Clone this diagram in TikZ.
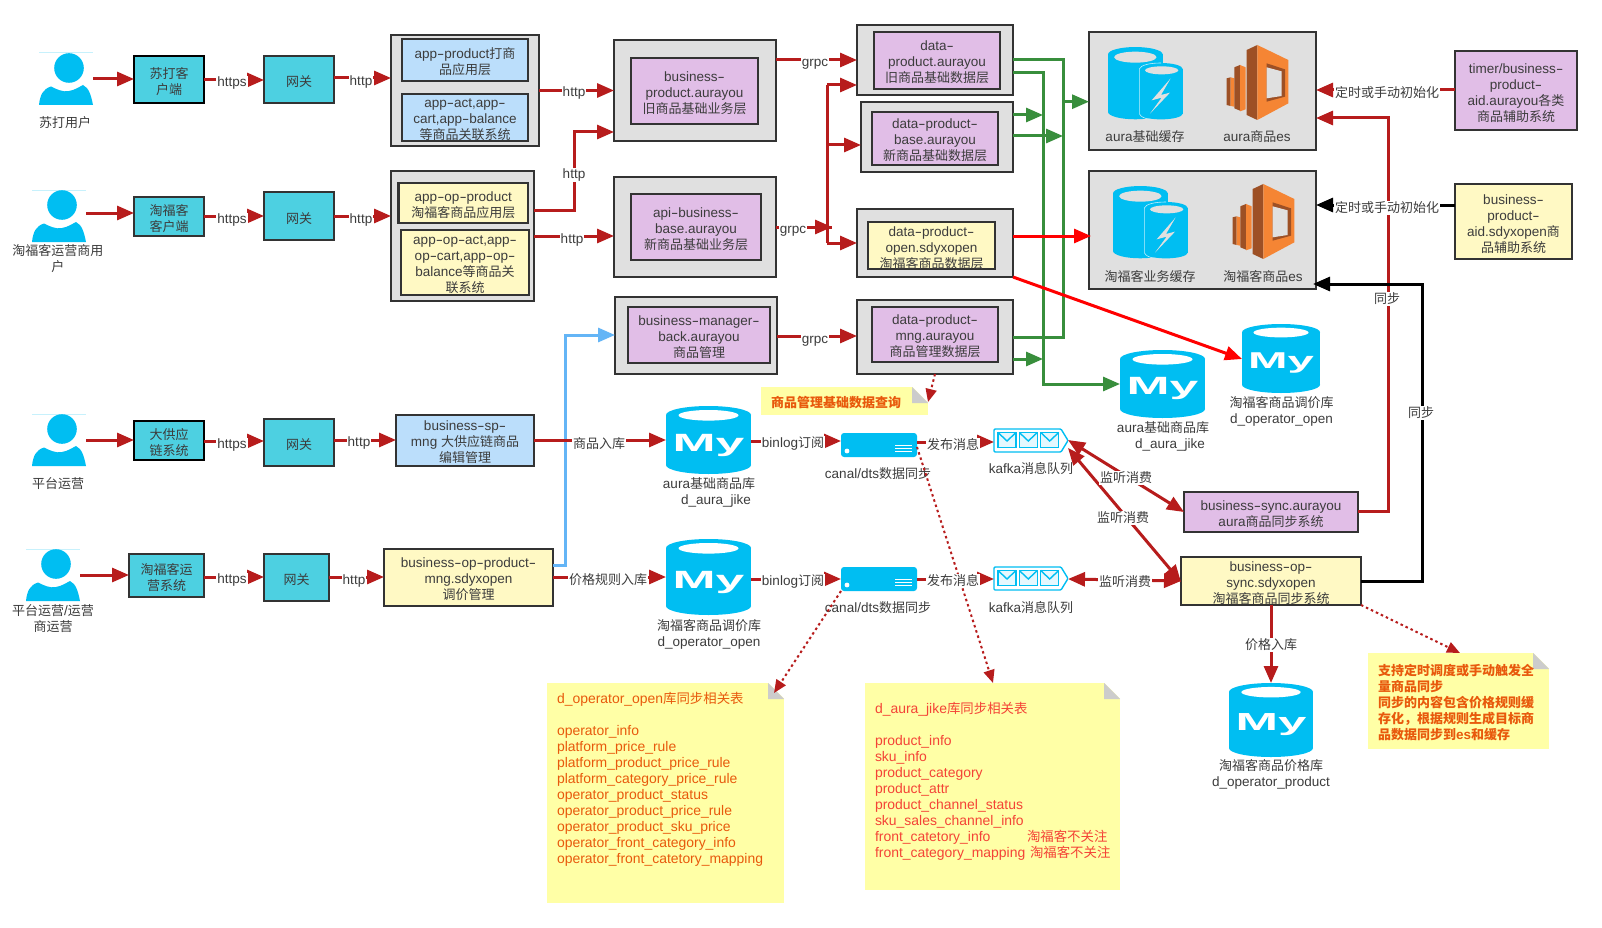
\documentclass[tikz,border=0pt]{standalone}
\usepackage{fontspec}
\usetikzlibrary{arrows.meta}
\setmainfont[Scale=1.04]{Liberation Sans}
\newfontfamily\latf[Scale=1.04]{Liberation Sans}
\newfontfamily\cjkf{Noto Sans CJK SC}
\XeTeXinterchartokenstate=1
\newcount\cjkcnt
\cjkcnt="4E00
\loop\XeTeXcharclass\cjkcnt=100 \advance\cjkcnt by 1 \ifnum\cjkcnt<"A000 \repeat
\XeTeXcharclass"FF0C=100
\XeTeXinterchartoks 0 100={\cjkf}
\XeTeXinterchartoks 100 0={\latf}
\XeTeXinterchartoks 4095 100={\cjkf}
\XeTeXinterchartoks 4095 0={\latf}
\newcommand{\hy}{\scalebox{1.6}[1]{-}}
\definecolor{cred}{HTML}{B71C1C}
\definecolor{cgreen}{HTML}{388E3C}
\definecolor{cblue}{HTML}{64B5F6}
\definecolor{ccyan}{HTML}{4DD0E1}
\definecolor{cpale}{HTML}{BBDEFB}
\definecolor{cyel}{HTML}{FFF9C4}
\definecolor{cpur}{HTML}{E1BEE7}
\definecolor{cgrey}{HTML}{E0E0E0}
\definecolor{cedge}{HTML}{333333}
\definecolor{cicon}{HTML}{00BEF2}
\definecolor{cnote}{HTML}{FFFFA6}
\definecolor{ctxt}{HTML}{3C3C3C}
\definecolor{corg}{HTML}{E8590C}
\definecolor{cpink}{HTML}{F44336}
\definecolor{esdark}{HTML}{9D5025}
\definecolor{esor}{HTML}{F58534}
\tikzset{
 base/.style={inner sep=0pt,outer sep=0pt},
 ghost/.style={base},
 txt/.style={base,align=center,text=ctxt,font=\fontsize{13}{16}\selectfont},
 lbl/.style={txt,fill=white,inner sep=1pt},
 box/.style={base,draw=cedge,line width=2.5pt},
 outerb/.style={box,fill=cgrey},
 cyanb/.style={box,fill=ccyan},
 cyankb/.style={box,fill=ccyan,draw=black},
 paleb/.style={box,fill=cpale},
 yelb/.style={box,fill=cyel},
 purb/.style={box,fill=cpur},
 arr/.style={draw=cred,line width=3pt,-{Triangle[length=17pt,width=14pt]}},
 darr/.style={draw=cred,line width=3pt,{Triangle[length=17pt,width=14pt]}-{Triangle[length=17pt,width=14pt]}},
 garr/.style={draw=cgreen,line width=3pt,-{Triangle[length=17pt,width=14pt]}},
 gline/.style={draw=cgreen,line width=3pt},
 barr/.style={arr,draw=cblue},
 rarr/.style={draw=red,line width=3pt,-{Triangle[length=17pt,width=14pt]}},
 karr/.style={draw=black,line width=3pt,-{Triangle[length=17pt,width=14pt]}},
 darrow/.style={draw=cred,line width=2pt,dash pattern=on 2.5pt off 3pt,-{Triangle[length=13pt,width=11pt]}},
 notetxt/.style={base,align=left,anchor=north west,font=\fontsize{13.4}{16}\selectfont},
 notebold/.style={base,align=left,anchor=north west,font=\fontsize{13}{16}\selectfont\bfseries},
}
\newcommand{\bx}[6]{%
 \node[#2,minimum width={(#5-#3)*1pt},minimum height={(#6-#4)*1pt}] (#1) at ({(#3+#5)/2},{(#4+#6)/2}) {};}
\newcommand{\tx}[3][2]{\node[txt] (#2-t) at ([yshift=-#1pt]#2.center) {#3};}
\newcommand{\conn}[4][arr]{\draw[#1] (#2.east |- 0,#4) -- (#3.west |- 0,#4);}
\newcommand{\lb}[4]{\node[lbl] (#1) at (#2,{#3+1}) {#4};}
\newcommand{\capt}[4]{\node[txt] (#1) at (#2,#3) {#4};}
\newcommand{\person}[3]{%
 \node[ghost,minimum width=54pt,minimum height=52pt] (#1) at ({#2+27},{#3+26}) {};
 \begin{scope}[shift={(#2,#3)}]
 \draw[cicon!22,line width=1pt] (0,0) -- (54,0);
 \fill[cicon] (30,15) circle [radius=14.8pt];
 \fill[cicon] (0,52) .. controls (1,42) and (4,36) .. (12,33.5) .. controls (17,36) and (24,39.5) .. (30,38) .. controls (36,37) and (40,34) .. (44,32) .. controls (50,35) and (52,42) .. (54,52) -- cycle;
 \end{scope}}
\newcommand{\cylfill}[6]{%
 \fill[#6] (#1,{#2+#5}) rectangle (#3,{#4-#5});
 \fill[#6] ({(#1+#3)/2},{#2+#5}) ellipse [x radius={(#3-#1)/2*1pt},y radius={#5*1pt}];
 \fill[#6] ({(#1+#3)/2},{#4-#5}) ellipse [x radius={(#3-#1)/2*1pt},y radius={#5*1pt}];}
\newcommand{\mysql}[5]{%
 \pgfmathsetmacro{\mysc}{(#4-#2)/85}
 \node[ghost,minimum width={(#4-#2)*1pt},minimum height={(#5-#3)*1pt}] (#1) at ({(#2+#4)/2},{(#3+#5)/2}) {};
 \cylfill{#2}{#3}{#4}{#5}{9*\mysc}{cicon}
 \fill[white] ({(#2+#4)/2},{#3+9.3*\mysc}) ellipse [x radius={30*\mysc*1pt},y radius={5.3*\mysc*1pt}];
 \node[base,text=white,scale=\mysc] (#1-my) at ({(#2+#4)/2},{(#3+#5)/2+5*\mysc}) {\scalebox{2.07}[1]{\fontsize{24}{24}\selectfont\bfseries My}};}
\newcommand{\cacheicon}[2]{%
 \begin{scope}[shift={({#1-8},{#2-6})},x=0.3333pt,y=-0.3333pt]
 \fill[cicon] (24,40) rectangle (188,213);
 \fill[cicon] (106,40) ellipse [x radius=27.3pt,y radius=7.3pt];
 \fill[cicon] (106,213) ellipse [x radius=27.3pt,y radius=7.3pt];
 \fill[cgrey] (106,48.5) ellipse [x radius=21.2pt,y radius=5.5pt];
 \fill[cicon] (118,84) rectangle (248,218);
 \fill[cicon] (183,84) ellipse [x radius=21.7pt,y radius=6pt];
 \fill[cicon] (183,218) ellipse [x radius=21.7pt,y radius=5.7pt];
 \draw[white!75!cicon,line width=.6pt] (118,218) -- (118,84) .. controls (122,72) and (150,66) .. (183,66);
 \draw[white!75!cicon,line width=.6pt] (118,218) .. controls (122,228) and (135,233) .. (150,235);
 \fill[cgrey] (185,88) ellipse [x radius=16.7pt,y radius=4pt];
 \fill[cgrey] (212,112) -- (155,178) -- (185,170) -- (150,218) -- (210,155) -- (183,162) -- cycle;
 \end{scope}}
\newcommand{\esicon}[2]{%
 \begin{scope}[shift={({#1-126},{#2-5})},x=0.3333pt,y=-0.3333pt]
 \fill[esdark] (380,115) -- (392,112) -- (392,198) -- (380,195) -- cycle;
 \fill[esor] (392,112) -- (403,115) -- (403,200) -- (392,198) -- cycle;
 \fill[esdark] (403,82) -- (420,75) -- (420,212) -- (403,205) -- cycle;
 \fill[esor] (420,75) -- (437,82) -- (437,208) -- (420,214) -- cycle;
 \fill[esdark] (440,30) -- (472,15) -- (472,240) -- (440,225) -- cycle;
 \fill[esor] (472,15) -- (565,60) -- (565,190) -- (472,240) -- cycle;
 \fill[esdark] (500,70) -- (555,88) -- (555,170) -- (500,185) -- cycle;
 \fill[cgrey] (500,82) -- (545,94) -- (545,168) -- (500,175) -- cycle;
 \end{scope}}
\newcommand{\server}[3]{%
 \node[ghost,minimum width=76pt,minimum height=24pt] (#1) at ({#2+38},{#3+12}) {};
 \begin{scope}[shift={(#2,#3)}]
 \fill[cicon,rounded corners=3pt] (0,0) rectangle (76,24);
 \fill[white] (6,18) circle [radius=2.4pt];
 \draw[white,line width=1pt] (54,12) -- (71,12) (54,15) -- (71,15) (54,18) -- (71,18);
 \end{scope}}
\newcommand{\kafka}[3]{%
 \node[ghost,minimum width=74pt,minimum height=23pt] (#1) at ({#2+37},{#3+11.5}) {};
 \begin{scope}[shift={(#2,#3)},cicon,line width=1.4pt]
 \draw[fill=white,rounded corners=1pt] (0,0) -- (67,0) -- (74,11.5) -- (67,23) -- (0,23) -- cycle;
 \foreach \ex in {4,25.3,46.7} {
  \draw[fill=cicon!10] (\ex,3.5) rectangle ({\ex+18},18.5);
  \draw (\ex,3.5) -- ({\ex+9},12) -- ({\ex+18},3.5);}
 \end{scope}}
\newcommand{\notebox}[5]{%
 \node[base,fill=cnote,minimum width={(#4-#2)*1pt},minimum height={(#5-#3)*1pt}] (#1) at ({(#2+#4)/2},{(#3+#5)/2}) {};
 \fill[white] ({#4-16},{#3-.5}) -- ({#4+.5},{#3-.5}) -- ({#4+.5},{#3+16}) -- cycle;
 \fill[black!20] ({#4-16},#3) -- (#4,{#3+16}) -- ({#4-16},{#3+16}) -- cycle;}
\begin{document}
\begin{tikzpicture}[x=1pt,y=-1pt]
\useasboundingbox (0,0) rectangle (1602,928);
\fill[white] (0,0) rectangle (1602,928);
% left column
\person{p1}{39}{53}
\person{p2}{32}{190}
\person{p3}{32}{414}
\person{p4}{26}{549}
\capt{p1c}{65}{123}{苏打用户}
\capt{p2c}{58}{259}{淘福客运营商用\\户}
\capt{p3c}{58}{484}{平台运营}
\capt{p4c}{53}{619}{平台运营/运营\\商运营}
\bx{c1}{cyankb}{134}{56}{204}{103}\tx{c1}{苏打客\\户端}
\bx{c2}{cyanb}{134}{197}{204}{236}\tx{c2}{淘福客\\客户端}
\bx{c3}{cyankb}{134}{421}{204}{460}\tx{c3}{大供应\\链系统}
\bx{c4}{cyanb}{129}{554}{204}{597}\tx{c4}{淘福客运\\营系统}
\bx{g1}{cyanb}{264}{56}{334}{103}\tx{g1}{网关}
\bx{g2}{cyanb}{264}{192}{334}{240}\tx[3]{g2}{网关}
\bx{g3}{cyanb}{264}{419}{334}{466}\tx{g3}{网关}
\bx{g4}{cyanb}{264}{554}{329}{601}\tx{g4}{网关}
% application layer
\bx{a1}{outerb}{391}{35}{539}{146}
\bx{a1a}{paleb}{402}{39}{528}{81}\tx{a1a}{app\hy product打商\\品应用层}
\bx{a1b}{paleb}{402}{94}{528}{141}\tx[2.5]{a1b}{app\hy act,app\hy \\cart,app\hy balance\\等商品关联系统}
\bx{a2}{outerb}{391}{171}{534}{301}
\bx{a2a}{yelb}{398.5}{183}{528}{223}\tx{a2a}{app\hy op\hy product\\淘福客商品应用层}
\bx{a2b}{yelb}{401}{230}{529}{295}\tx[2.5]{a2b}{app\hy op\hy act,app\hy \\op\hy cart,app\hy op\hy \\balance等商品关\\联系统}
\bx{a3}{paleb}{396}{415}{534}{466}\tx{a3}{business\hy sp\hy \\mng 大供应链商品\\编辑管理}
\bx{a4}{yelb}{384}{549}{553}{606}\tx{a4}{business\hy op\hy product\hy \\mng.sdyxopen\\调价管理}
% business layer
\bx{b1}{outerb}{614}{40}{776}{141}
\bx{b1i}{purb}{631}{58}{758}{124}\tx[2.5]{b1i}{business\hy \\product.aurayou\\旧商品基础业务层}
\bx{b2}{outerb}{614}{177}{776}{277}
\bx{b2i}{purb}{631}{194}{761}{260}\tx[2.5]{b2i}{api\hy business\hy \\base.aurayou\\新商品基础业务层}
\bx{b3}{outerb}{615}{297}{777}{374}
\bx{b3i}{purb}{628}{307}{770}{363}\tx{b3i}{business\hy manager\hy \\back.aurayou\\商品管理}
% data layer
\bx{d1}{outerb}{857}{25}{1013}{95}
\bx{d1i}{purb}{874}{32}{1000}{89}\tx{d1i}{data\hy \\product.aurayou\\旧商品基础数据层}
\bx{d2}{outerb}{861}{102}{1013}{172}
\bx{d2i}{purb}{872}{112}{998}{165}\tx{d2i}{data\hy product\hy \\base.aurayou\\新商品基础数据层}
\bx{d3}{outerb}{857}{209}{1013}{277}
\bx{d3i}{yelb}{868}{222}{995}{269}\tx[3]{d3i}{data\hy product\hy \\open.sdyxopen\\淘福客商品数据层}
\bx{d4}{outerb}{857}{300}{1013}{374}
\bx{d4i}{purb}{872}{307}{998}{362}\tx{d4i}{data\hy product\hy \\mng.aurayou\\商品管理数据层}
% cache boxes
\bx{e1}{outerb}{1089}{32}{1316}{150}
\cacheicon{1108}{47}
\esicon{1226}{45}
\capt{e1a}{1145}{137}{aura基础缓存}
\capt{e1b}{1257}{137}{aura商品es}
\bx{e2}{outerb}{1089}{171}{1316}{289}
\cacheicon{1113}{186}
\esicon{1232}{184}
\capt{e2a}{1150}{277}{淘福客业务缓存}
\capt{e2b}{1263}{277}{淘福客商品es}
\bx{t1}{purb}{1455}{51}{1577}{130}\tx[3]{t1}{timer/business\hy \\product\hy \\aid.aurayou各类\\商品辅助系统}
\bx{t2}{yelb}{1455}{184}{1572}{259}\tx[3]{t2}{business\hy \\product\hy \\aid.sdyxopen商\\品辅助系统}
\bx{s1}{purb}{1184}{492}{1358}{532}\tx{s1}{business\hy sync.aurayou\\aura商品同步系统}
\bx{s2}{yelb}{1181}{557}{1361}{605}\tx[2.5]{s2}{business\hy op\hy \\sync.sdyxopen\\淘福客商品同步系统}
% databases and queues
\mysql{m1}{666}{406}{751}{474}
\mysql{m2}{666}{539}{751}{615}
\mysql{m3}{1120}{350}{1205}{418}
\mysql{m4}{1242}{324}{1320}{393}
\mysql{m5}{1229}{683}{1313}{757}
\capt{m1c}{709}{492}{aura基础商品库\\\hspace*{14pt}d\_aura\_jike}
\capt{m2c}{709}{634}{淘福客商品调价库\\d\_operator\_open}
\capt{m3c}{1163}{436}{aura基础商品库\\\hspace*{14pt}d\_aura\_jike}
\capt{m4c}{1281.5}{411}{淘福客商品调价库\\d\_operator\_open}
\capt{m5c}{1271}{774}{淘福客商品价格库\\d\_operator\_product}
\server{v1}{841}{433}
\server{v2}{841}{567}
\capt{v1c}{878}{474}{canal/dts数据同步}
\capt{v2c}{878}{608}{canal/dts数据同步}
\kafka{k1}{994}{429}
\kafka{k2}{994}{567}
\capt{k1c}{1031}{469}{kafka消息队列}
\capt{k2c}{1031}{608}{kafka消息队列}
% notes
\notebox{nq}{761}{387}{928}{415}
\notebox{n1}{547}{683}{784}{903}
\notebox{n2}{865}{683}{1120}{890}
\notebox{n3}{1368}{653}{1549}{749}
\node[notebold,anchor=center,text=corg] (nqt) at (836,403) {商品管理基础数据查询};
\node[notetxt,text=corg] (n1t) at (557,692) {d\_operator\_open库同步相关表\\[16pt]operator\_info\\platform\_price\_rule\\platform\_product\_price\_rule\\platform\_category\_price\_rule\\operator\_product\_status\\operator\_product\_price\_rule\\operator\_product\_sku\_price\\operator\_front\_category\_info\\operator\_front\_catetory\_mapping};
\node[notetxt,text=cpink] (n2t) at (875,702) {d\_aura\_jike库同步相关表\\[16pt]product\_info\\sku\_info\\product\_category\\product\_attr\\product\_channel\_status\\sku\_sales\_channel\_info\\\makebox[152pt][l]{front\_catetory\_info}淘福客不关注\\\makebox[155pt][l]{front\_category\_mapping}淘福客不关注};
\node[notebold,text=corg] (n3t) at (1378,664) {支持定时调度或手动触发全\\量商品同步\\同步的内容包含价格规则缓\\存化，根据规则生成目标商\\品数据同步到es和缓存};
% connectors: green
\draw[gline] (d1.east |- 0,60) -| (1063,337) -- (d4.east |- 0,337);
\draw[garr] (d1.east |- 0,73) -| (1043,384) -- (m3.west |- 0,384);
\draw[garr] (d2.east |- 0,115) -- (1043,115);
\draw[garr] (d2.east |- 0,136) -- (1063,136);
\draw[garr] (d4.east |- 0,359) -- (1043,359);
\draw[garr] (1063,101.7) -- (e1.west |- 0,101.7);
% connectors: red
\conn{p1}{c1}{79}\conn{c1}{g1}{80}\conn{g1}{a1}{78}
\conn{p2}{c2}{213}\conn{c2}{g2}{216}\conn{g2}{a2}{216}
\conn{p3}{c3}{440}\conn{c3}{g3}{441}\conn{g3}{a3}{440}
\conn{p4}{c4}{575}\conn{c4}{g4}{577}\conn{g4}{a4}{577}
\conn{a1}{b1}{90.5}
\draw[arr] (a2.east |- 0,210) -| (574,132) -- (b1.west |- 0,132);
\conn{a2}{b2}{236}
\conn{b1}{d1}{60}
\draw[draw=cred,line width=3pt] (b2.east |- 0,227) -- (832,227);
\draw[draw=cred,line width=3pt] (827,85) -- (827,243);
\draw[arr] (827,85) -- (d1.west |- 0,85);
\draw[arr] (827,145) -- (d2.west |- 0,145);
\draw[arr] (827,243) -- (d3.west |- 0,243);
\draw[arr] (805,227) -- (832,227);
\conn{b3}{d4}{336}
\draw[barr] (a4.east |- 0,565) -| (565,335) -- (b3.west |- 0,335);
\conn{a3}{m1}{440}\conn{a4}{m2}{577}
\conn{m1}{v1}{441}\conn{m2}{v2}{579}
\conn{v1}{k1}{442}\conn{v2}{k2}{579}
\draw[rarr] (d3.east |- 0,236) -- (1091,236);
\draw[rarr] (d3.south east) -- (m4.west |- 0,359);
\draw[arr] (t1.west |- 0,90) -- (e1.east |- 0,90);
\draw[arr] (s1.east |- 0,511) -| (1388,118) -- (e1.east |- 0,118);
\draw[karr] (t2.west |- 0,205) -- (e2.east |- 0,205);
\draw[karr] (s2.east |- 0,581) -| (1422,284) -- (1313,284);
\draw[darr] (k1.east |- 0,440) -- (s1.west |- 0,512);
\draw[darr] (k1.east |- 0,448) -- (s2.west |- 0,582);
\draw[darr] (k2.east |- 0,579) -- (s2.west |- 0,581);
\draw[arr] (s2.south) -- (m5.north);
% dotted
\draw[darrow] (d4.south -| 935,0) -- (nq.east |- 0,402);
\draw[darrow] (v1.east |- 0,447) -- (n2.north -| 993,0);
\coordinate (n1tip) at (774,693);
\draw[darrow] (v2.south west) -- (n1tip);
\draw[darrow] (s2.south east) -- (n3.north -| 1460,0);
% connector labels
\lb{l1}{232}{82}{https}\lb{l2}{361}{81}{http}
\lb{l3}{232}{219}{https}\lb{l4}{361}{219}{http}
\lb{l5}{232}{444}{https}\lb{l6}{359}{442}{http}
\lb{l7}{232}{579}{https}\lb{l8}{354}{580}{http}
\lb{l9}{574}{92}{http}\lb{l10}{574}{174}{http}\lb{l11}{572}{239}{http}
\lb{l12}{815}{63}{grpc}\lb{l13}{793}{230}{grpc}\lb{l14}{815}{340}{grpc}
\lb{l15}{599}{443}{商品入库}\lb{l16}{608}{579}{价格规则入库}
\lb{l17}{793}{443}{binlog订阅}\lb{l18}{793}{581}{binlog订阅}
\lb{l19}{953}{444}{发布消息}\lb{l20}{953}{580}{发布消息}
\lb{l21}{1126}{477}{监听消费}\lb{l22}{1123}{517}{监听消费}\lb{l23}{1125}{581}{监听消费}
\lb{l24}{1387}{92}{定时或手动初始化}\lb{l25}{1387}{207}{定时或手动初始化}
\lb{l26}{1387}{298}{同步}\lb{l27}{1421}{412}{同步}\lb{l28}{1271}{644}{价格入库}
\end{tikzpicture}
\end{document}
